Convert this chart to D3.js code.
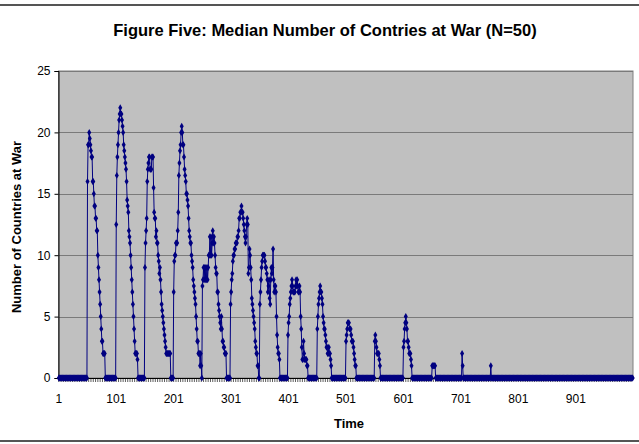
<html>
<head>
<title>Figure Five</title>
<style>
  body { margin: 0; background: #fff; }
  text { font-family: "Liberation Sans", Arial, sans-serif; }
</style>
</head>
<body>
<svg></svg>
<script src="https://d3js.org/d3.v7.min.js"></script>
<script>
// number of time steps in the run
var nSteps = 1000;

// first time step of each war episode
var warStarts = [51, 101, 151, 201, 251, 300, 351, 400, 451, 501, 551, 601, 651, 703, 753];

// median countries at war, one list per episode
var war1 = [16,19,19,20,19.5,19,18.5,18,18,16,16,15,14,14,13,13,12,12,10,9,8,7,6,5,4,3,3,2,2,2,2];
var war2 = [12.5,16.5,18,19,20,21,21.5,22,21.5,21.5,21,20.5,20,19,18.5,18,17.5,17,16,14.5,14,13.5,12,11.5,11,10,9,8,7,6,5,4,3,2,2,2,2,1.5];
var war3 = [9,11,12,13,16,17,17.5,18,18,17,17,17,18,18,18,15.5,13.5,13,13,11.5,12,11,11,10,9.5,8.5,9,8,7,6,5.5,5,4.5,4,3.5,3,2.5,2,2,2,2,2,2,2,2];
var war4 = [7,9.5,10,10,11,11,11,12,13.5,16.5,17.5,18.5,19,20,20.5,20,19,19,18,17,16.5,16,15,15,14.5,14,13,12,11.5,11,11,10,9.5,9,8,7.5,7,6.5,6,5,4,3,3,2,2,2,1,2,1];
var war5 = [7.5,8,9,8,9,8,9,8,9,8,9,10,10,11.5,10,11.5,10,11,12,11,11.5,11,10,9,8.5,8.5,7,7,6,5.5,5,4.5,4,5,4,3,3,2.5,2.5,2,2,2];
var war6 = [6,7,8,8.5,9.5,10,10,10.5,10.5,11,11,11,11.5,11.5,12,13,13,13.5,13.5,14,13.5,13.5,13,12.5,12,11.5,11,11.5,12.5,13,12.5,8.5,9,10.5,10,9,8,6.5,6,5.5,5,4.5,4,3,2.5,2,2,1,1];
var war7 = [6,7,8,9,9.5,10,10,10,10,9.5,9,9,8.5,8,7,7.5,8,6.5,6,8,9,8.5,9,10.5,8,7,7.5,7.5,7,5,3.5,2.5,2,2,1.5];
var war8 = [3.5,4.5,5,6,6.5,7,7.5,8,7.5,7,7,7,7,7.5,8,7.5,8,7.5,7,7,7.5,7,5,4,2.5,1.5,1.5,3,2,1.5,1.5,1.5,1.5,1,1];
var war9 = [4,5,6,6.5,7,7.5,7,7,6.5,6,5,4.5,4,4,3.5,3,2.5,2.5,2,2,2.5,2,2,1.5,1];
var war10 = [3,3.5,4,4.5,4.5,4.5,4,4,4,3.5,3,3,3,2.5,2,1.5,1,1];
var war11 = [3,3.5,3,2.5,2,2,2,2,1.5,1];
var war12 = [2.5,3,4,4.5,5,4.5,4,3,3,2.5,2,2,2,1.5,1];
var war13 = [1,1,1,1,1,1];
var war14 = [2,1];
var war15 = [1];
var warValues = [war1, war2, war3, war4, war5, war6, war7, war8, war9, war10, war11, war12, war13, war14, war15];

// axis labels
var xTickLabels = [1, 101, 201, 301, 401, 501, 601, 701, 801, 901];
var yTickLabels = [0, 5, 10, 15, 20, 25];

// every step is zero outside the episodes
var series = [];
for (var i = 1; i <= nSteps; i++) series.push({t: i, v: 0});
warStarts.forEach(function(s, k) {
    warValues[k].forEach(function(v, j) { series[s - 1 + j].v = v; });
});

var width = 639, height = 444;
var svg = d3.select("svg").attr("width", width).attr("height", height);

// outer chart frame
svg.append("line").attr("x1", 0).attr("x2", width).attr("y1", 5).attr("y2", 5)
    .attr("stroke", "#555").attr("stroke-width", 2);
svg.append("line").attr("x1", 0).attr("x2", width).attr("y1", 441).attr("y2", 441)
    .attr("stroke", "#555").attr("stroke-width", 2);

var plot = {left: 58.5, right: 633, top: 71, bottom: 378};

var x = d3.scaleBand()
    .domain(series.map(function(d) { return d.t; }))
    .range([plot.left, plot.right]);
var y = d3.scaleLinear().domain([0, 25]).range([plot.bottom, plot.top]);
var cx = function(t) { return x(t) + x.bandwidth() / 2; };

// plot area
svg.append("rect")
    .attr("x", plot.left).attr("y", plot.top)
    .attr("width", plot.right - plot.left).attr("height", plot.bottom - plot.top)
    .attr("fill", "#c0c0c0").attr("stroke", "#808080");

// gridlines
svg.append("g").selectAll("line")
    .data(yTickLabels.slice(1))
    .enter().append("line")
    .attr("x1", plot.left).attr("x2", plot.right)
    .attr("y1", function(d) { return Math.round(y(d)) + 0.5; })
    .attr("y2", function(d) { return Math.round(y(d)) + 0.5; })
    .attr("stroke", "#7a7a7a").attr("stroke-width", 1);

// y axis
var yAxis = svg.append("g")
    .attr("transform", "translate(" + plot.left + ",0)")
    .call(d3.axisLeft(y).tickValues(yTickLabels).tickSize(4).tickPadding(4));
yAxis.select(".domain").attr("stroke", "#000");
yAxis.selectAll(".tick line").attr("stroke", "#000");
yAxis.selectAll("text").attr("font-size", 12).attr("fill", "#000")
    .style("font-family", "'Liberation Sans', Arial, sans-serif");

// x axis: minor tick marks, then labels
var minorTicks = series.filter(function(d) { return (d.t - 1) % 4 === 0; });
svg.append("g").selectAll("line")
    .data(minorTicks)
    .enter().append("line")
    .attr("x1", function(d) { return cx(d.t); }).attr("x2", function(d) { return cx(d.t); })
    .attr("y1", plot.bottom).attr("y2", plot.bottom + 4)
    .attr("stroke", "#333").attr("stroke-width", 0.8);
svg.append("line")
    .attr("x1", plot.left).attr("x2", plot.right)
    .attr("y1", plot.bottom + 0.5).attr("y2", plot.bottom + 0.5)
    .attr("stroke", "#000");

svg.append("g").selectAll("text")
    .data(xTickLabels)
    .enter().append("text")
    .attr("x", function(d) { return cx(d); })
    .attr("y", 403)
    .attr("text-anchor", "middle")
    .attr("font-size", 12)
    .text(function(d) { return d; });

// the series line
var line = d3.line()
    .x(function(d) { return cx(d.t); })
    .y(function(d) { return y(d.v); });
svg.append("path")
    .datum(series)
    .attr("d", line)
    .attr("fill", "none")
    .attr("stroke", "#000080")
    .attr("stroke-width", 1);

// diamond markers on every step
var diamond = d3.symbol().type(d3.symbolDiamond).size(14);
svg.append("g").selectAll("path")
    .data(series)
    .enter().append("path")
    .attr("d", diamond)
    .attr("transform", function(d) { return "translate(" + cx(d.t) + "," + y(d.v) + ")"; })
    .attr("fill", "#000080");

// titles
svg.append("text")
    .attr("x", 325).attr("y", 36)
    .attr("text-anchor", "middle")
    .attr("font-size", 16.5).attr("font-weight", "bold")
    .text("Figure Five: Median Number of Contries at War (N=50)");

svg.append("text")
    .attr("x", 349).attr("y", 428)
    .attr("text-anchor", "middle")
    .attr("font-size", 13).attr("font-weight", "bold")
    .text("Time");

svg.append("text")
    .attr("transform", "translate(21,227) rotate(-90)")
    .attr("text-anchor", "middle")
    .attr("font-size", 13).attr("font-weight", "bold")
    .text("Number of Countries at War");
</script>
</body>
</html>
